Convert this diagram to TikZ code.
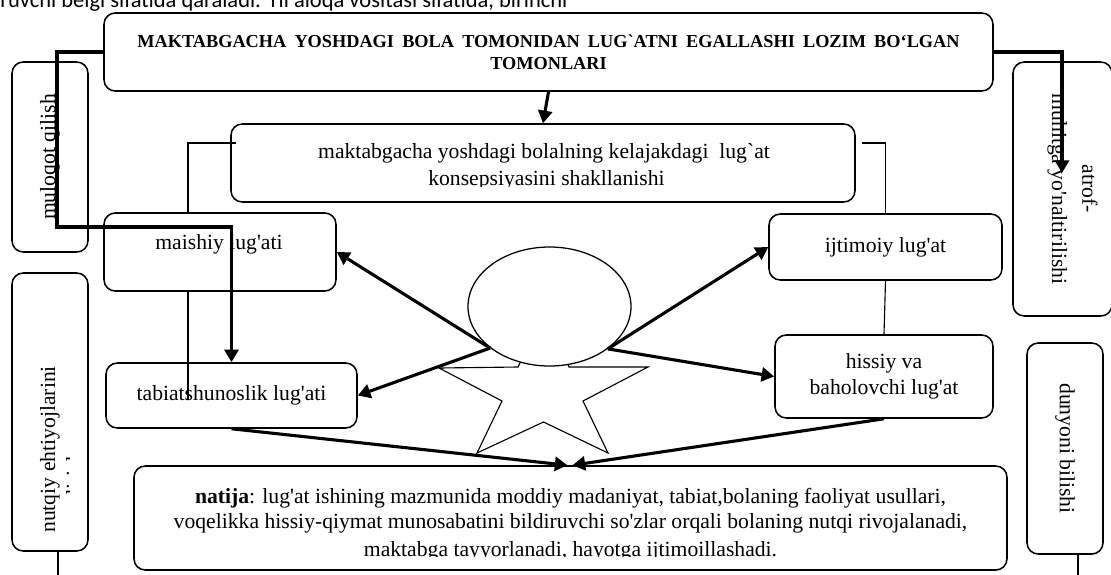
\documentclass[tikz,border=0pt]{standalone}
\usepackage{fontspec}
\setmainfont{Liberation Serif}[Ligatures=TeXOff]
\newfontfamily\topfont{Carlito}
\usepackage{graphicx}
\usetikzlibrary{shapes,arrows.meta,calc}

\begin{document}
\begin{tikzpicture}[x=0.025cm,y=-0.025cm]

\def\pxu{0.025cm}
\def\body{\fontsize{15.4}{18.5}\selectfont}

\tikzstyle{box}=[rectangle,draw,line width=1.1pt,rounded corners=8pt,fill=white,inner sep=0pt,font=\body,align=center]
\tikzstyle{line}=[anchor=base,inner sep=0pt,font=\body]
\tikzstyle{thinline}=[line width=0.8pt]
\tikzstyle{heavyarrow}=[line width=2.2pt,-{Triangle[length=9pt,width=10pt]}]

\useasboundingbox (0,0) rectangle (1111,574);

%text above
\node[anchor=base west,inner sep=0pt,font={\topfont\fontsize{16}{19}\selectfont}] (toptext) at (0,7) {ruvchi belgi sifatida qaraladi. Til aloqa vositasi sifatida, birinchi};

%title
\node[box,minimum width=889*\pxu,minimum height=78*\pxu,font=\bfseries\fontsize{13}{15.6}\selectfont] (title) at (548.5,52) {\makebox[20.55cm][s]{MAKTABGACHA YOSHDAGI BOLA TOMONIDAN LUG`ATNI EGALLASHI LOZIM BO‘LGAN}\\TOMONLARI};

%side boxes
\node[box,minimum width=76*\pxu,minimum height=190*\pxu] (muloqot) at (50,157) {\rotatebox{90}{muloqot qilish}};
\node[box,minimum width=76*\pxu,minimum height=278*\pxu] (nutqiy) at (50,412) {};
\begin{scope}
\clip (12,273) rectangle (69,551);
\node[line,anchor=base west,rotate=90] (nutqiy1) at (55,533) {nutqiy ehtiyojlarini};
\node[line,anchor=base west,rotate=90] (nutqiy2) at (81,533) {qondirish};
\end{scope}
\node[box,minimum width=99*\pxu,minimum height=254*\pxu] (atrof) at (1062.5,189) {\hspace*{0.5cm}\rotatebox{-90}{\begin{tabular}{@{}c@{}}atrof-\\[3pt]muhitga yo'naltirilishi\end{tabular}}};
\node[box,minimum width=76*\pxu,minimum height=211*\pxu] (dunyoni) at (1065,448.5) {\rotatebox{-90}{dunyoni bilishi}};

%vocabulary boxes
\node[box,minimum width=251*\pxu,minimum height=65*\pxu] (tabiat) at (231.5,395.5) {tabiatshunoslik lug'ati};
\node[box,minimum width=624*\pxu,minimum height=78*\pxu] (konsep) at (543,163) {};
\begin{scope}
\clip (231,124) rectangle (855,186);
\node[line] (konsep1) at (544,158) {maktabgacha yoshdagi bolalning kelajakdagi\ \ lug`at};
\node[line] (konsep2) at (546.5,185) {konsepsiyasini shakllanishi};
\end{scope}
\node[box,minimum width=233*\pxu,minimum height=66*\pxu] (ijtimoiy) at (885.5,247) {ijtimoiy lug'at};
\node[box,minimum width=218*\pxu,minimum height=83*\pxu] (hissiy) at (884,376.5) {hissiy va\\baholovchi lug'at};

%result
\node[box,minimum width=873*\pxu,minimum height=104*\pxu] (natija) at (570.5,518) {};
\begin{scope}
\clip (134,466) rectangle (1007,556);
\node[line] (natija1) at (570.5,503) {\textbf{natija}: lug'at ishining mazmunida moddiy madaniyat, tabiat,bolaning faoliyat usullari,};
\node[line] (natija2) at (570.5,528.5) {voqelikka hissiy-qiymat munosabatini bildiruvchi so'zlar orqali bolaning nutqi rivojalanadi,};
\node[line] (natija3) at (570.5,556.5) {maktabga tayyorlanadi, hayotga ijtimoillashadi.};
\end{scope}

%thin connections
\draw[thinline] ($(konsep.west)+(6,-20)$) -| ($(tabiat.center)+(-43.5,4.5)$);
\draw[thinline] ($(konsep.east)+(6,-20)$) -| (ijtimoiy.north);
\draw[thinline] (ijtimoiy.south) -- (hissiy.north);
\coordinate (nutqiyend) at (58,580);
\draw[thinline] (nutqiy.south -| nutqiyend) -- (nutqiyend);
\coordinate (dunyoniend) at (1078,580);
\draw[thinline] (dunyoni.south -| dunyoniend) -- (dunyoniend);

\node[box,minimum width=232*\pxu,minimum height=78*\pxu] (maishiy) at (220,252) {};
\node[line,anchor=center] (maishiytext) at (219,244) {maishiy lug'ati};

%child
\draw[line width=0.8pt,fill=white] (543.5,315.5) -- (518,367) -- (439,368) -- (502,401) -- (477,453) -- (543.5,422) -- (608,453) -- (583,401) -- (648,367) -- (569,367) -- cycle;
\node[ellipse,draw,line width=0.9pt,fill=white,minimum width=163*\pxu,minimum height=119*\pxu,inner sep=0pt] (head) at (549.5,306.5) {};

%arrows
\draw[heavyarrow] (title.south) -- (konsep.north);
\coordinate (leftbend) at (57,227);
\draw[heavyarrow] (title.west) -| (leftbend) -| (tabiat.north);
\coordinate (atroftip) at (1062,173);
\draw[heavyarrow] (title.east) -| (atroftip);
\draw[heavyarrow] (head.215) -- (maishiy.east);
\draw[heavyarrow] (head.215) -- (tabiat.east);
\draw[heavyarrow] (head.324) -- (ijtimoiy.west);
\draw[heavyarrow] (head.324) -- (hissiy.west);
\draw[heavyarrow] (tabiat.south) -- ($(natija.north)+(-3,0)$);
\draw[heavyarrow] (hissiy.south) -- ($(natija.north)+(2,0)$);

\end{tikzpicture}
\end{document}
